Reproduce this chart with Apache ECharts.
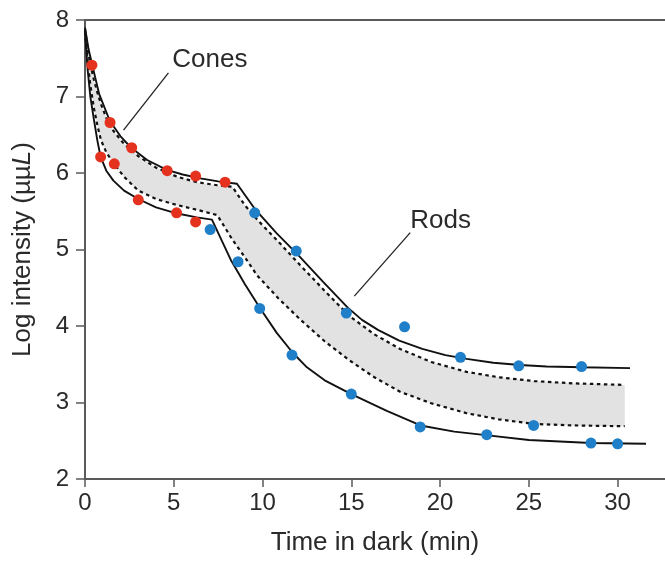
<!DOCTYPE html>
<html>
<head>
<meta charset="utf-8">
<script src="https://cdn.jsdelivr.net/npm/echarts@6/dist/echarts.min.js"></script>
<style>
  html, body { margin: 0; padding: 0; background: #fff; }
  #chart { width: 665px; height: 561px; }
</style>
</head>
<body>
<div id="chart"></div>
<script>
// ---- Data ----
var xTicks = [0, 5, 10, 15, 20, 25, 30];
var yTicks = [2, 3, 4, 5, 6, 7, 8];

// outer solid curves
var upperSolidT = [0, 0.2, 0.4, 0.8, 1.4, 2.0, 2.6, 3.5, 4.6, 5.5, 6.5, 7.5, 8.56, 9.6, 10.8, 12.0, 13.4, 14.8, 15.6, 16.5, 17.7, 19.0, 20.3, 21.5, 23.0, 24.5, 26.0, 28.0, 30.7];
var upperSolidV = [7.9, 7.62, 7.42, 7.03, 6.68, 6.48, 6.33, 6.17, 6.04, 5.98, 5.93, 5.89, 5.86, 5.52, 5.21, 4.93, 4.58, 4.24, 4.08, 3.95, 3.81, 3.70, 3.62, 3.57, 3.52, 3.49, 3.47, 3.46, 3.45];

var lowerSolidT = [0, 0.15, 0.3, 0.5, 0.7, 0.88, 1.2, 1.6, 2.2, 3.0, 4.0, 5.2, 6.3, 7.15, 8.2, 9.0, 9.9, 10.8, 11.7, 12.5, 13.5, 15.0, 17.0, 18.9, 20.8, 22.7, 25.0, 28.5, 31.6];
var lowerSolidV = [7.85, 7.35, 7.0, 6.7, 6.42, 6.21, 6.03, 5.90, 5.77, 5.66, 5.55, 5.47, 5.42, 5.39, 4.87, 4.55, 4.22, 3.91, 3.65, 3.46, 3.29, 3.11, 2.89, 2.70, 2.62, 2.57, 2.51, 2.47, 2.46];

// dashed curves bounding the grey band (common time grid)
var bandT = [0, 0.15, 0.3, 0.5, 0.7, 0.9, 1.2, 1.6, 2.2, 3.0, 4.0, 5.2, 6.3, 7.45, 8.3, 9.0, 9.7, 10.9, 12.1, 13.5, 14.9, 16.3, 17.75, 19.5, 21.5, 23.3, 25.3, 27.5, 30.4];
var upperDashV = [7.88, 7.62, 7.42, 7.22, 7.05, 6.9, 6.72, 6.55, 6.38, 6.22, 6.07, 5.95, 5.88, 5.84, 5.82, 5.58, 5.39, 5.10, 4.80, 4.46, 4.13, 3.89, 3.70, 3.53, 3.40, 3.33, 3.28, 3.25, 3.23];
var lowerDashV = [7.85, 7.45, 7.15, 6.85, 6.62, 6.43, 6.27, 6.13, 5.95, 5.77, 5.66, 5.58, 5.52, 5.45, 5.13, 4.90, 4.66, 4.36, 4.09, 3.80, 3.55, 3.33, 3.14, 2.99, 2.86, 2.78, 2.72, 2.70, 2.69];

// measured points
var conePointsT = [0.39, 1.41, 0.88, 1.65, 2.63, 3.0, 4.63, 5.16, 6.23, 6.23, 7.89];
var conePointsV = [7.41, 6.66, 6.21, 6.12, 6.33, 5.65, 6.03, 5.48, 5.96, 5.36, 5.88];
var rodPointsT = [7.05, 9.56, 8.62, 11.9, 9.84, 11.66, 14.72, 15.0, 18.0, 18.88, 21.15, 22.63, 24.43, 25.27, 27.97, 28.5, 30.0];
var rodPointsV = [5.26, 5.48, 4.84, 4.98, 4.23, 3.62, 4.17, 3.11, 3.99, 2.68, 3.59, 2.58, 3.48, 2.70, 3.47, 2.47, 2.46];

// annotations
var coneLabel = 'Cones';
var rodLabel = 'Rods';
var conePointer = [[2.17, 6.56], [4.70, 7.31]];
var rodPointer = [[15.17, 4.39], [18.32, 5.22]];
var coneLabelAt = [4.92, 7.48];
var rodLabelAt = [18.32, 5.37];

// ---- helpers ----
function zip(a, b) { return a.map(function (x, i) { return [x, b[i]]; }); }

var FONT = '"Liberation Sans", Arial, Helvetica, sans-serif';
var AXIS_COLOR = '#5a5a5a';
var TEXT_COLOR = '#2a2a2a';

var chart = echarts.init(document.getElementById('chart'), null, { renderer: 'canvas' });

var lineBase = { type: 'line', symbol: 'none', silent: true, animation: false };
var dashStyle = { color: '#111', width: 2.2, type: [3.5, 3.5] };
var solidStyle = { color: '#111', width: 1.9 };

var option = {
  animation: false,
  backgroundColor: '#ffffff',
  textStyle: { fontFamily: FONT },
  grid: { left: 85, right: 0, top: 20, bottom: 81, containLabel: false },
  xAxis: [{
    type: 'value', min: 0, max: 32.67, interval: 5,
    name: 'Time in dark (min)', nameLocation: 'middle', nameGap: 51,
    nameTextStyle: { fontSize: 26, color: TEXT_COLOR, fontFamily: FONT },
    axisLine: { show: true, lineStyle: { color: AXIS_COLOR, width: 2 } },
    axisTick: { show: true, length: 8, lineStyle: { color: AXIS_COLOR, width: 1.5 }, customValues: xTicks },
    axisLabel: { fontSize: 24, color: TEXT_COLOR, margin: 12, fontFamily: FONT, customValues: xTicks },
    splitLine: { show: false }
  }, {
    type: 'value', min: 0, max: 32.67, position: 'top',
    axisLine: { show: true, onZero: false, lineStyle: { color: AXIS_COLOR, width: 2 } },
    axisTick: { show: false }, axisLabel: { show: false }, splitLine: { show: false }
  }],
  yAxis: {
    type: 'value', min: 2, max: 8, interval: 1,
    name: 'Log intensity (µµ{it|L})', nameLocation: 'middle', nameGap: 49,
    nameTextStyle: {
      fontSize: 26, color: TEXT_COLOR, fontFamily: FONT,
      rich: { it: { fontStyle: 'italic', fontSize: 26, color: TEXT_COLOR, fontFamily: FONT } }
    },
    axisLine: { show: true, lineStyle: { color: AXIS_COLOR, width: 2 } },
    axisTick: { show: true, length: 9, lineStyle: { color: AXIS_COLOR, width: 1.5 }, customValues: yTicks },
    axisLabel: { fontSize: 24, color: TEXT_COLOR, margin: 16, fontFamily: FONT, customValues: yTicks },
    splitLine: { show: false }
  },
  series: [
    // grey band between the dashed curves
    {
      type: 'custom', name: 'band', z: 1, silent: true,
      data: [[bandT[0], upperDashV[0]]],
      renderItem: function (params, api) {
        var pts = [];
        for (var i = 0; i < bandT.length; i++) pts.push(api.coord([bandT[i], upperDashV[i]]));
        for (var j = bandT.length - 1; j >= 0; j--) pts.push(api.coord([bandT[j], lowerDashV[j]]));
        return { type: 'polygon', shape: { points: pts }, style: { fill: '#e2e2e2', stroke: null } };
      }
    },
    Object.assign({}, lineBase, { name: 'upperDash', z: 3, lineStyle: dashStyle, data: zip(bandT, upperDashV) }),
    Object.assign({}, lineBase, { name: 'lowerDash', z: 3, lineStyle: dashStyle, data: zip(bandT, lowerDashV) }),
    Object.assign({}, lineBase, { name: 'upperSolid', z: 3, lineStyle: solidStyle, data: zip(upperSolidT, upperSolidV) }),
    Object.assign({}, lineBase, { name: 'lowerSolid', z: 3, lineStyle: solidStyle, data: zip(lowerSolidT, lowerSolidV) }),
    // pointers
    Object.assign({}, lineBase, { name: 'conePointer', z: 3, lineStyle: { color: '#222', width: 1.3 }, data: conePointer }),
    Object.assign({}, lineBase, { name: 'rodPointer', z: 3, lineStyle: { color: '#222', width: 1.3 }, data: rodPointer }),
    // measured points
    {
      type: 'scatter', name: 'Cones', z: 5, symbolSize: 11, silent: true,
      itemStyle: { color: '#e5321f', opacity: 1 },
      data: zip(conePointsT, conePointsV)
    },
    {
      type: 'scatter', name: 'Rods', z: 5, symbolSize: 11, silent: true,
      itemStyle: { color: '#1f7fc8', opacity: 1 },
      data: zip(rodPointsT, rodPointsV)
    },
    // text labels
    {
      type: 'scatter', name: 'labels', z: 6, symbolSize: 0, silent: true,
      itemStyle: { opacity: 1 },
      label: {
        show: true, position: 'right', distance: 0, opacity: 1,
        formatter: function (p) { return p.data.text; },
        fontSize: 26, color: TEXT_COLOR, fontFamily: FONT
      },
      data: [
        { value: coneLabelAt, text: coneLabel },
        { value: rodLabelAt, text: rodLabel }
      ]
    }
  ]
};

chart.setOption(option);
</script>
</body>
</html>
